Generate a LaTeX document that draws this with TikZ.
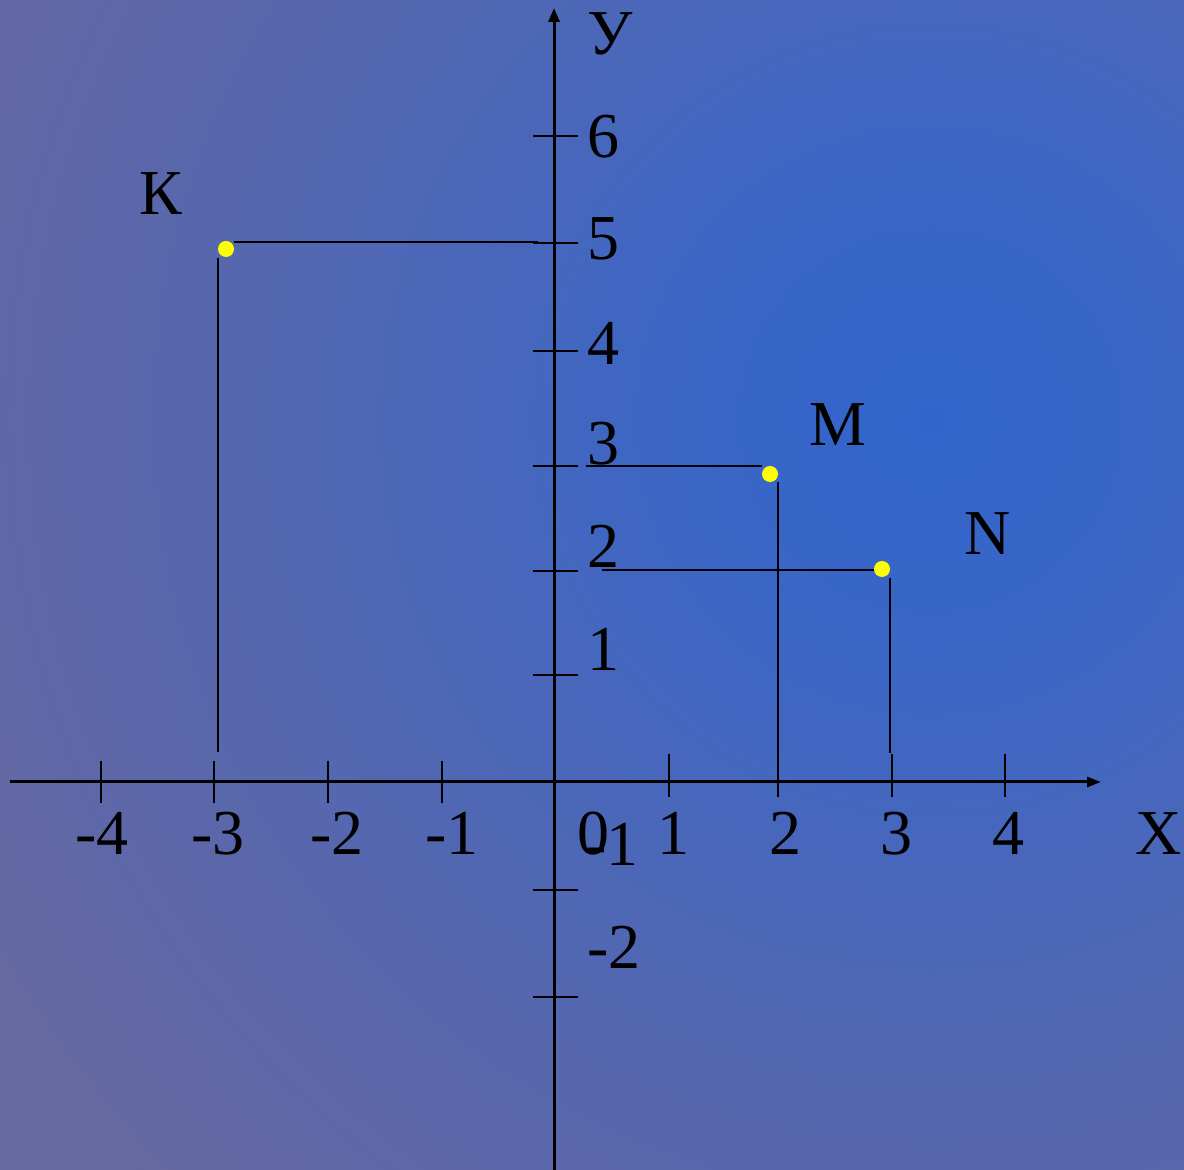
\documentclass[tikz,border=0pt]{standalone}
\usepackage{fontspec}
\setmainfont{Liberation Serif}
\usetikzlibrary{arrows.meta}
\definecolor{glowc}{HTML}{3265CC}
\definecolor{innc}{HTML}{3A66C6}
\definecolor{midc}{HTML}{4A67BA}
\definecolor{farc}{HTML}{5867AC}
\definecolor{edgec}{HTML}{6668A0}
\definecolor{dotc}{HTML}{FFFF00}
\pgfdeclareradialshading{bgglow}{\pgfpoint{0bp}{0bp}}{color(0bp)=(glowc); color(5bp)=(innc); color(10bp)=(midc); color(16bp)=(farc); color(23bp)=(edgec); color(50bp)=(edgec)}
\begin{document}
\begin{tikzpicture}[x=0.5pt,y=-0.5pt,
    axis/.style={line width=1.5pt},
    tck/.style={line width=1pt},
    guide/.style={line width=1.2pt},
    pt/.style={circle,fill=dotc,inner sep=0pt,minimum size=8pt},
    lbl/.style={anchor=base,inner sep=0pt,font=\fontsize{32}{36}\selectfont}]
  % slide background, brightest to the right of the y axis
  \useasboundingbox (0,0) rectangle (1184,1170);
  \begin{scope}
    \clip (0,0) rectangle (1184,1170);
    \shade[shading=bgglow] (930,420) circle (600pt);
  \end{scope}
  % the axes
  \coordinate (xs) at (10,782);
  \coordinate (xe) at (1101,782);
  \coordinate (ys) at (554,1170);
  \coordinate (ye) at (554,8);
  \draw[axis,-{Triangle[length=7pt,width=5pt]}] (xs) -- (xe);
  \draw[axis,-{Triangle[length=7pt,width=5.5pt]}] (ys) -- (ye);
  \node[lbl] (xl) at (1159,855) {X};
  \node[lbl] (yl) at (610,55) {У};
  % ticks and their numbers
  \foreach \x in {101,214,328,442,555} \draw[tck] (\x,761) -- (\x,803);
  \foreach \x in {669,778,892,1005} \draw[tck] (\x,754) -- (\x,797);
  \foreach \y in {136,243,351,466,571,675,782,890,997} \draw[tck] (533,\y) -- (578,\y);
  \foreach \x/\t in {102/-4,218/-3,337/-2,452/-1,593/0,673/1,785/2,896/3,1008/4}
    \node[lbl] at (\x,855) {\t};
  \foreach \y/\t in {158/6,260/5,365/4,465/3,568/2,671/1}
    \node[lbl] at (603,\y) {\t};
  \node[lbl] at (612,865) {-1};
  \node[lbl] at (614,968) {-2};
  % the three points
  \node[pt] (k) at (226,249) {};
  \node[pt] (m) at (770,474) {};
  \node[pt] (n) at (882,569) {};
  \node[lbl] (kl) at (161,215) {К};
  \node[lbl] (ml) at (838,446) {M};
  \node[lbl] (nl) at (988,555) {N};
  % projections onto the axes
  \coordinate (k1) at (234,242);
  \coordinate (k2) at (538,242);
  \coordinate (k3) at (218,258);
  \coordinate (k4) at (218,752);
  \coordinate (m1) at (586,466);
  \coordinate (m2) at (762,466);
  \coordinate (m3) at (778,482);
  \coordinate (m4) at (778,782);
  \coordinate (n1) at (602,570);
  \coordinate (n2) at (874,570);
  \coordinate (n3) at (890,578);
  \coordinate (n4) at (890,753);
  \draw[guide] (k1) -- (k2) (k3) -- (k4);
  \draw[guide] (m1) -- (m2) (m3) -- (m4);
  \draw[guide] (n1) -- (n2) (n3) -- (n4);
\end{tikzpicture}
\end{document}
